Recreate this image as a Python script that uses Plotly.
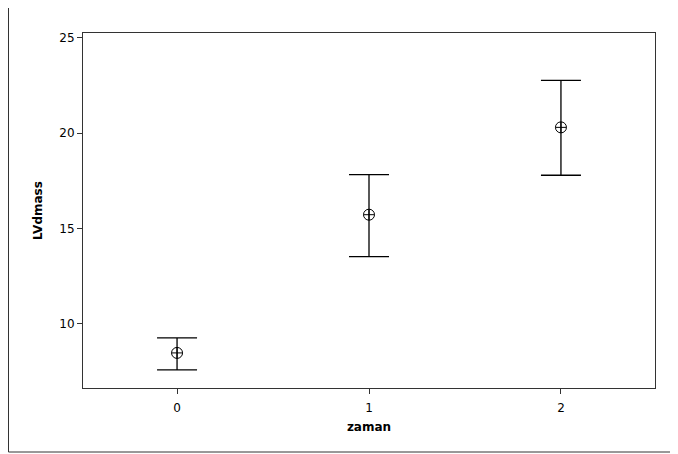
import plotly.graph_objects as go

# Data
categories = [0, 1, 2]
means = [8.48, 15.73, 20.31]
upper = [9.27, 17.83, 22.78]
lower = [7.59, 13.53, 17.80]
y_ticks = [10, 15, 20, 25]
x_ticks = [0, 1, 2]

err_plus = [u - m for u, m in zip(upper, means)]
err_minus = [m - l for m, l in zip(means, lower)]

fig = go.Figure()
fig.add_trace(go.Scatter(
    x=categories, y=means, mode="markers",
    marker=dict(symbol="circle-cross-open", size=11, color="black",
                line=dict(width=1, color="black")),
    error_y=dict(type="data", symmetric=False, array=err_plus, arrayminus=err_minus,
                 color="black", thickness=1.3, width=20),
    showlegend=False,
))

# page body has an 8px margin, so the figure is offset by 8px
W, H = 670, 446
L, R, T, B = 75, 23, 25, 66
pw, ph = W - L - R, H - T - B

def px_x(p):
    return (p - L) / pw

def px_y(p):
    return (H - B - p) / ph

fig.add_shape(type="rect", xref="paper", yref="paper",
              x0=px_x(0.5), x1=px_x(666.5), y0=px_y(444), y1=px_y(-9),
              line=dict(color="#333333", width=1), layer="below")

font = "DejaVu Sans"
fig.update_layout(
    width=W, height=H,
    margin=dict(l=L, r=R, t=T, b=B),
    paper_bgcolor="white", plot_bgcolor="white",
    font=dict(family=font, size=12, color="black"),
    xaxis=dict(range=[-0.49, 2.49], tickvals=x_ticks, ticktext=[str(v) for v in x_ticks],
               ticks="outside", ticklen=5, tickcolor="#333333", ticklabelstandoff=4,
               showline=True, linecolor="#333333", linewidth=1, mirror=True,
               showgrid=False, zeroline=False,
               title=dict(text="<b>zaman</b>", font=dict(family=font, size=12), standoff=8)),
    yaxis=dict(range=[6.64, 25.26], tickvals=y_ticks,
               ticks="outside", ticklen=5, tickcolor="#333333",
               showline=True, linecolor="#333333", linewidth=1, mirror=True,
               showgrid=False, zeroline=False,
               title=dict(text="<b>LVdmass</b>", font=dict(family=font, size=12), standoff=14)),
)

fig.write_html("out.html")
